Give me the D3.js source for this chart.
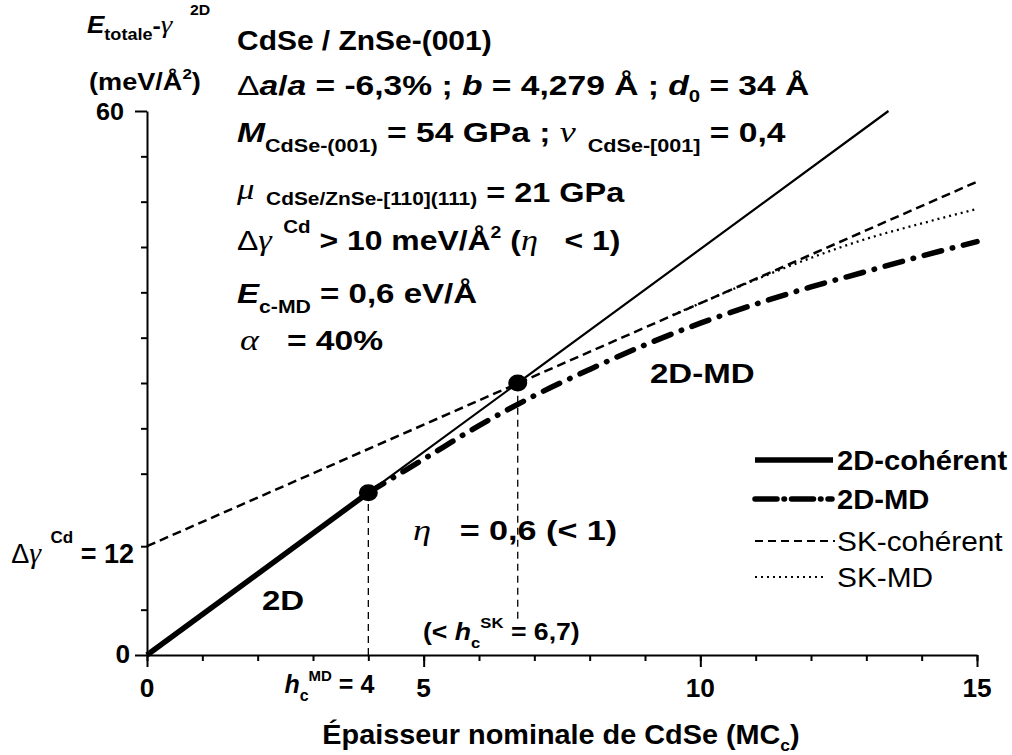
<!DOCTYPE html>
<html><head><meta charset="utf-8">
<script src="https://cdn.jsdelivr.net/npm/d3@7"></script>
<style>
html,body{margin:0;padding:0;background:#fff;}
text{white-space:pre;}
</style></head>
<body><svg id="c" width="1012" height="755"></svg>
<script>
// ---------- data ----------
const xDomain = [0, 15];
const yDomain = [0, 60];
const xMajorTicks = [0, 5, 10, 15];
const xMinorTicks = [0,1,2,3,4,5,6,7,8,9,10,11,12,13,14,15];
const yMinorTicks = [5,20,25,30,35,40,45,50,55];
const yMajorTicks = [0, 60];
const deltaGammaCd = 12;

// 2D coherent energy (thin extension and thick part up to h_c^MD)
const cohX = [0, 4, 13.4];
const cohY = [0, 17.9, 60];
const hcMD = 4;
// 2D with misfit dislocations
const mdX = [4, 5, 6, 7, 8, 9, 10, 11, 12, 13, 14, 15];
const mdY = [17.9, 21.6, 25.3, 28.6, 31.5, 34.2, 36.6, 38.7, 40.6, 42.3, 44.0, 45.6];
// SK coherent
const skCohX = [0, 15];
const skCohY = [12, 52.2];
// SK with MD
const skMdX = [9.5, 10, 11, 12, 13, 14, 15];
const skMdY = [37.5, 38.8, 41.4, 43.8, 45.9, 47.6, 49.2];
// critical points
const critX = [4, 6.7];
const critY = [17.9, 30];
const hcSK = 6.7;
const hcSKguideBottom = 4;

const legendLabels = ["2D-cohérent", "2D-MD", "SK-cohérent", "SK-MD"];

// ---------- setup ----------
const SANS = "'Liberation Sans', Arial, sans-serif";
const SERIF = "'Liberation Serif', 'Times New Roman', serif";
const svg = d3.select("#c");
const x = d3.scaleLinear().domain(xDomain).range([147, 977]);
const y = d3.scaleLinear().domain(yDomain).range([655, 111]);

function rich(px, py, parts, anchor, base, sx) {
  base = base || 28;
  sx = sx || 1;
  const t = svg.append("text").attr("x", 0).attr("y", 0)
    .attr("transform", `translate(${px},${py}) scale(${sx},1)`)
    .attr("text-anchor", anchor || "start").attr("fill", "#000");
  let prev = 0;
  parts.forEach(p => {
    const ts = t.append("tspan").text(p.t)
      .attr("font-family", p.serif ? SERIF : SANS)
      .attr("font-size", p.s || base)
      .attr("font-weight", p.n || p.serif ? "normal" : "bold")
      .attr("font-style", p.i ? "italic" : "normal");
    const off = p.o || 0;
    if (off !== prev) ts.attr("dy", off - prev);
    if (p.dx) ts.attr("dx", p.dx);
    prev = off;
  });
  return t;
}

// ---------- axes ----------
const gx = svg.append("g").attr("transform", `translate(0,${y(0)})`);
gx.call(d3.axisBottom(x).tickValues(xMinorTicks).tickSize(6).tickSizeOuter(0).tickFormat(""));
gx.selectAll(".tick line").attr("stroke-width", 2);
gx.select(".domain").attr("stroke-width", 2);
const gx2 = svg.append("g").attr("transform", `translate(0,${y(0)})`);
gx2.call(d3.axisBottom(x).tickValues(xMajorTicks).tickSize(12).tickSizeOuter(0).tickFormat(""));
gx2.select(".domain").remove();
gx2.selectAll(".tick line").attr("stroke-width", 2);

const gy = svg.append("g").attr("transform", `translate(${x(0)},0)`);
gy.call(d3.axisLeft(y).tickValues(yMinorTicks.concat([deltaGammaCd])).tickSize(6).tickSizeOuter(0).tickFormat(""));
gy.select(".domain").attr("stroke-width", 2);
gy.selectAll(".tick line").attr("stroke-width", 2);
const gy2 = svg.append("g").attr("transform", `translate(${x(0)},0)`);
gy2.call(d3.axisLeft(y).tickValues(yMajorTicks).tickSize(12).tickSizeOuter(0).tickFormat(""));
gy2.select(".domain").remove();
gy2.selectAll(".tick line").attr("stroke-width", 2);

// tick labels
xMajorTicks.forEach(v => rich(x(v), 697, [{t: String(v)}], "middle", 25, 1.05));
rich(x(hcMD) + 6, 693, [{t: "h", i: true}, {t: "c", s: 16, o: 8}, {t: "MD", s: 15, o: -12}, {t: " = " + hcMD, o: 0}], "end", 25, 1.0);
rich(124, 120, [{t: String(yMajorTicks[1])}], "end", 24, 1.05);
rich(130, 663, [{t: String(yMajorTicks[0])}], "end", 25, 1.05);
rich(134, 563, [{t: "Δ", n: true}, {t: "γ", serif: true, i: true, s: 30}, {t: "  Cd", s: 17, o: -20}, {t: " = " + deltaGammaCd, o: 0}], "end", 27);

// axis titles
rich(561, 744, [{t: "Épaisseur nominale de CdSe (MC"}, {t: "c", s: 17, o: 7}, {t: ")", o: 0}], "middle", 28, 1.03);
rich(87, 33, [{t: "E", i: true, s: 23}, {t: "totale", s: 16, o: 7}, {t: "-", s: 22, o: 0}, {t: "γ", serif: true, i: true, s: 26}, {t: "    2D", s: 14, o: -18}], "start", 28, 1.13);
rich(89, 90, [{t: "(meV/Å", s: 24}, {t: "2", s: 15, o: -11}, {t: ")", s: 24, o: 0}], "start", 28, 1.13);

// ---------- lines ----------
const line = d3.line().x(d => x(d[0])).y(d => y(d[1]));
const curve = d3.line().curve(d3.curveMonotoneX).x(d => x(d[0])).y(d => y(d[1]));
const zip = (a, b) => a.map((v, i) => [v, b[i]]);

// guides
svg.append("path").attr("d", line([[critX[0], 0], [critX[0], critY[0]]]))
  .attr("stroke", "#000").attr("stroke-width", 1.3).attr("stroke-dasharray", "7,5").attr("fill", "none");
svg.append("path").attr("d", line([[hcSK, hcSKguideBottom], [hcSK, critY[1]]]))
  .attr("stroke", "#000").attr("stroke-width", 1.3).attr("stroke-dasharray", "7,5").attr("fill", "none");

const coh = zip(cohX, cohY);
svg.append("path").attr("d", line(coh)).attr("stroke", "#000").attr("stroke-width", 2.2).attr("fill", "none");
svg.append("path").attr("d", line(coh.filter(d => d[0] <= hcMD))).attr("stroke", "#000").attr("stroke-width", 5.5).attr("fill", "none");
svg.append("path").attr("d", line(zip(skCohX, skCohY))).attr("stroke", "#000").attr("stroke-width", 2.5)
  .attr("stroke-dasharray", "9,5").attr("fill", "none");
svg.append("path").attr("d", curve(zip(skMdX, skMdY)))
  .attr("stroke", "#000").attr("stroke-width", 2.3).attr("stroke-dasharray", "2,4").attr("fill", "none");
svg.append("path").attr("d", curve(zip(mdX, mdY)))
  .attr("stroke", "#000").attr("stroke-width", 5.5).attr("stroke-linecap", "round")
  .attr("stroke-dasharray", "18,11,0.5,11").attr("fill", "none");

// critical points
svg.selectAll("ellipse.crit").data(zip(critX, critY)).enter().append("ellipse")
  .attr("cx", d => x(d[0])).attr("cy", d => y(d[1])).attr("rx", 9.5).attr("ry", 8.5).attr("fill", "#000");

// ---------- annotations ----------
rich(237, 50, [{t: "CdSe / ZnSe-(001)"}], "start", 28, 1.07);
rich(237, 95, [{t: "Δ", n: true}, {t: "a", i: true}, {t: "/"}, {t: "a", i: true}, {t: " = -6,3% ; "}, {t: "b", i: true}, {t: " = 4,279 Å ; "},
  {t: "d", i: true}, {t: "0", s: 17, o: 7}, {t: " = 34 Å", o: 0}], "start", 28, 1.2);
rich(237, 142, [{t: "M", i: true}, {t: "CdSe-(001)", s: 18, o: 10}, {t: " = 54 GPa ; ", o: 0}, {t: "ν", serif: true, i: true, s: 30},
  {t: "  CdSe-[001]", s: 18, o: 10}, {t: " = 0,4", o: 0}], "start", 28, 1.2);
rich(237, 202, [{t: "μ", serif: true, i: true, s: 30, o: -3}, {t: "  CdSe/ZnSe-[110](111)", s: 18, o: 3}, {t: " = 21 GPa", o: 0}], "start", 28, 1.16);
rich(237, 250, [{t: "Δ", n: true}, {t: "γ", serif: true, i: true, s: 30}, {t: "  Cd", s: 18, o: -17}, {t: " > 10 meV/Å", o: 0},
  {t: "2", s: 17, o: -12}, {t: " (", o: 0}, {t: "η", serif: true, i: true, s: 30}, {t: "   < 1)"}], "start", 28, 1.14);
rich(237, 303, [{t: "E", i: true}, {t: "c-MD", s: 18, o: 10}, {t: " = 0,6 eV/Å", o: 0}], "start", 28, 1.18);
rich(240, 350, [{t: "α", serif: true, i: true, s: 30}, {t: "   = 40%"}], "start", 28, 1.2);

rich(262, 610, [{t: "2D"}], "start", 28, 1.18);
rich(650, 383, [{t: "2D-MD"}], "start", 28, 1.18);
rich(413, 540, [{t: "η", serif: true, i: true, s: 30}, {t: "   = 0,6 (< 1)"}], "start", 28, 1.22);
rich(423, 640, [{t: "(< "}, {t: "h", i: true}, {t: "c", s: 15, o: 8}, {t: "SK", s: 15, o: -12}, {t: " = 6,7)", o: 0}], "start", 24, 1.11);

// ---------- legend ----------
const legY = [460, 499, 541, 577];
const legStyles = [
  {w: 5.5, dash: null, cap: "butt", x2: 833},
  {w: 5.5, dash: "22,7,0.5,7", cap: "round", x2: 832},
  {w: 2.2, dash: "8,5", cap: "butt", x2: 835},
  {w: 2.2, dash: "2,4", cap: "butt", x2: 823}
];
legendLabels.forEach((lab, i) => {
  const st = legStyles[i];
  const l = svg.append("line").attr("x1", 755).attr("x2", st.x2).attr("y1", legY[i]).attr("y2", legY[i])
    .attr("stroke", "#000").attr("stroke-width", st.w).attr("stroke-linecap", st.cap);
  if (st.dash) l.attr("stroke-dasharray", st.dash);
  rich(837, legY[i] + 10, [{t: lab, n: i >= 2}], "start", i >= 2 ? 28 : 27, i >= 2 ? 1.065 : 1.08);
});
</script></body></html>
